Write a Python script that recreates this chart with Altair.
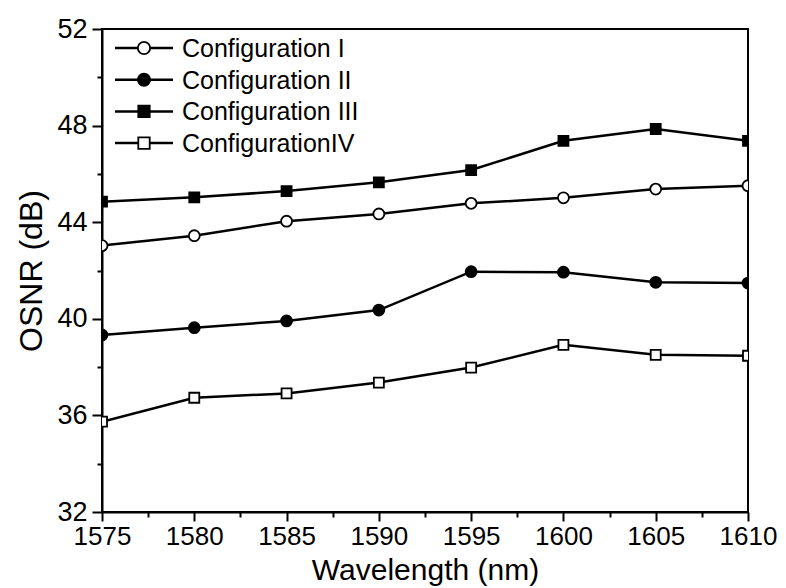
import altair as alt
import pandas as pd

# Wavelength sweep (nm) and measured OSNR (dB) for each configuration
wavelengths = [1575, 1580, 1585, 1590, 1595, 1600, 1605, 1610]
configs = ["Configuration I", "Configuration II", "Configuration III", "ConfigurationIV"]
osnr_I = [43.03, 43.44, 44.04, 44.34, 44.78, 45.01, 45.37, 45.51]
osnr_II = [39.33, 39.63, 39.91, 40.36, 41.95, 41.93, 41.51, 41.48]
osnr_III = [44.85, 45.03, 45.29, 45.65, 46.16, 47.37, 47.86, 47.37]
osnr_IV = [35.74, 36.73, 36.91, 37.36, 37.98, 38.92, 38.51, 38.47]

shapes = ["circle", "circle", "square", "square"]
fills = ["white", "black", "black", "white"]
sizes = [120, 120, 100, 100]

x_ticks = [1575 + 2.5 * i for i in range(15)]
y_ticks = [32 + 2 * i for i in range(11)]

FONT = "Liberation Sans"
W, H = 646, 483

rows = []
for name, vals in zip(configs, [osnr_I, osnr_II, osnr_III, osnr_IV]):
    for wl, v in zip(wavelengths, vals):
        rows.append({"config": name, "wavelength": wl, "osnr": v})
df = pd.DataFrame(rows)

x_scale = alt.Scale(domain=[1575, 1610], nice=False, zero=False)
y_scale = alt.Scale(domain=[32, 52], nice=False, zero=False)

x_axis = alt.Axis(
    title="Wavelength (nm)",
    values=x_ticks,
    labelExpr="datum.value % 5 === 0 ? datum.label : ''",
    format="d",
    grid=False,
    tickSize={"condition": {"test": "datum.value % 5 === 0", "value": 9}, "value": 5},
    tickWidth=2,
    tickColor="black",
    domainColor="black",
    domainWidth=2,
    labelFont=FONT,
    labelFontSize=26,
    labelColor="black",
    labelPadding=2,
    labelFlush=False,
    labelOverlap=False,
    titleFont=FONT,
    titleFontSize=30,
    titleFontWeight="normal",
    titleColor="black",
    titlePadding=6,
)
y_axis = alt.Axis(
    title="OSNR (dB)",
    values=y_ticks,
    labelExpr="datum.value % 4 === 0 ? datum.label : ''",
    grid=False,
    tickSize={"condition": {"test": "datum.value % 4 === 0", "value": 10}, "value": 5},
    tickWidth=2,
    tickColor="black",
    domainColor="black",
    domainWidth=2,
    labelFont=FONT,
    labelFontSize=27,
    labelColor="black",
    labelPadding=5,
    labelFlush=False,
    labelOverlap=False,
    titleFont=FONT,
    titleFontSize=32,
    titleFontWeight="normal",
    titleColor="black",
    titlePadding=8,
)

enc = dict(
    x=alt.X("wavelength:Q", scale=x_scale, axis=x_axis),
    y=alt.Y("osnr:Q", scale=y_scale, axis=y_axis),
)

layers = []
for i, name in enumerate(configs):
    sub = df[df["config"] == name]
    layers.append(alt.Chart(sub).mark_line(color="black", strokeWidth=2.5, clip=True).encode(**enc))
for i, name in enumerate(configs):
    sub = df[df["config"] == name]
    layers.append(
        alt.Chart(sub)
        .mark_point(shape=shapes[i], filled=True, fill=fills[i], stroke="black",
                    strokeWidth=1.8, size=sizes[i], opacity=1, clip=True)
        .encode(**enc)
    )

# Legend rows drawn inside the plot's upper-left corner
legend_df = pd.DataFrame({"config": configs, "row": list(range(len(configs)))})
for i, name in enumerate(configs):
    ypx = 19 + 31.7 * i
    entry = alt.Chart(legend_df[legend_df["row"] == i])
    layers.append(entry.mark_rule(color="black", strokeWidth=2.5).encode(
        x=alt.value(13), x2=alt.value(71), y=alt.value(ypx)))
    layers.append(entry.mark_point(shape=shapes[i], filled=True, fill=fills[i], stroke="black",
                                   strokeWidth=1.8, size=sizes[i] + 30, opacity=1).encode(
        x=alt.value(42), y=alt.value(ypx)))
    layers.append(entry.mark_text(align="left", baseline="middle", font=FONT, fontSize=25,
                                  color="black").encode(
        x=alt.value(80), y=alt.value(ypx + 1), text="config:N"))

chart = (
    alt.layer(*layers)
    .properties(
        width=W,
        height=H,
        autosize=alt.AutoSizeParams(type="none"),
        padding={"left": 102, "top": 29, "right": 38, "bottom": 76},
        background="white",
    )
    .configure_view(stroke="black", strokeWidth=2)
)

chart.save("out.html", embed_options={"renderer": "svg", "actions": False})
